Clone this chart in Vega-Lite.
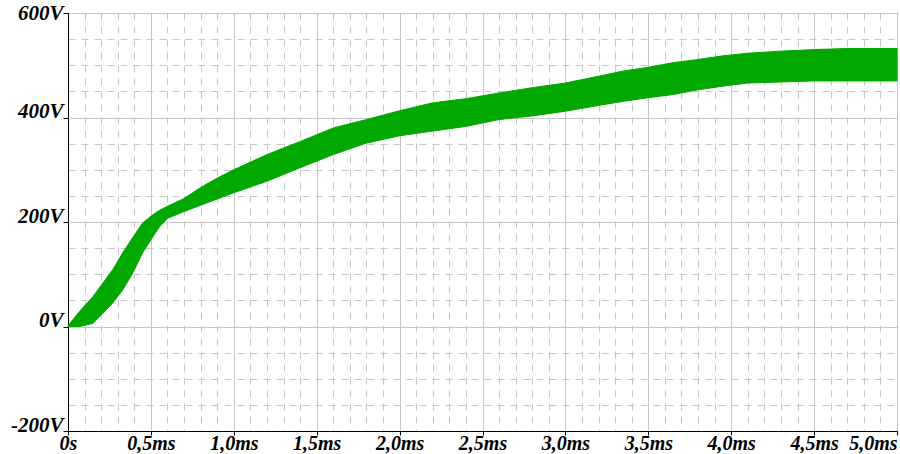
{
  "$schema": "https://vega.github.io/schema/vega-lite/v6.json",
  "autosize": {"type": "none"},
  "padding": {"left": 68, "top": 13, "right": 3, "bottom": 23},
  "width": 829,
  "height": 418,
  "background": "white",
  "view": {"stroke": "black", "strokeWidth": 1},
  "config": {
    "axis": {
      "domainColor": "black",
      "domainWidth": 1,
      "tickColor": "black",
      "gridColor": "#c6c6c6",
      "gridWidth": 1,
      "title": null,
      "labelOverlap": false,
      "labelFlush": false,
      "labelBound": false,
      "labelFont": "Liberation Serif",
      "labelFontWeight": 700,
      "labelFontStyle": "italic",
      "labelColor": "black"
    }
  },
  "data": {
    "values": [
      {"t": 0, "lo": 0, "hi": 0},
      {"t": 0.012, "lo": 0, "hi": 6},
      {"t": 0.07, "lo": 0, "hi": 29},
      {"t": 0.15, "lo": 6, "hi": 57},
      {"t": 0.21, "lo": 25, "hi": 83},
      {"t": 0.27, "lo": 45, "hi": 109},
      {"t": 0.33, "lo": 70, "hi": 141},
      {"t": 0.39, "lo": 102, "hi": 170},
      {"t": 0.45, "lo": 141, "hi": 198},
      {"t": 0.5, "lo": 166, "hi": 211},
      {"t": 0.55, "lo": 190, "hi": 222},
      {"t": 0.6, "lo": 207, "hi": 230},
      {"t": 0.7, "lo": 220, "hi": 245},
      {"t": 0.8, "lo": 232, "hi": 266},
      {"t": 0.9, "lo": 244, "hi": 284},
      {"t": 1.0, "lo": 256, "hi": 300},
      {"t": 1.2, "lo": 278, "hi": 329},
      {"t": 1.4, "lo": 304, "hi": 354},
      {"t": 1.6, "lo": 329, "hi": 380},
      {"t": 1.8, "lo": 351, "hi": 396},
      {"t": 2.0, "lo": 365, "hi": 413},
      {"t": 2.2, "lo": 374, "hi": 428},
      {"t": 2.4, "lo": 383, "hi": 436},
      {"t": 2.6, "lo": 396, "hi": 447},
      {"t": 2.8, "lo": 403, "hi": 457},
      {"t": 3.0, "lo": 412, "hi": 466},
      {"t": 3.2, "lo": 423, "hi": 479},
      {"t": 3.35, "lo": 431, "hi": 489},
      {"t": 3.5, "lo": 438, "hi": 496},
      {"t": 3.65, "lo": 444, "hi": 505},
      {"t": 3.8, "lo": 453, "hi": 511},
      {"t": 3.95, "lo": 460, "hi": 518},
      {"t": 4.1, "lo": 466, "hi": 523},
      {"t": 4.3, "lo": 468, "hi": 527},
      {"t": 4.5, "lo": 470, "hi": 530},
      {"t": 4.7, "lo": 470, "hi": 532},
      {"t": 5.0, "lo": 470, "hi": 532}
    ]
  },
  "mark": {"type": "area", "color": "#00a800", "stroke": "#00a800", "strokeWidth": 1},
  "encoding": {
    "x": {
      "field": "t",
      "type": "quantitative",
      "scale": {"domain": [0, 5], "nice": false, "zero": false},
      "axis": {
        "values": [0, 0.1, 0.2, 0.3, 0.4, 0.5, 0.6, 0.7, 0.8, 0.9, 1.0, 1.1, 1.2, 1.3, 1.4, 1.5, 1.6, 1.7, 1.8, 1.9, 2.0, 2.1, 2.2, 2.3, 2.4, 2.5, 2.6, 2.7, 2.8, 2.9, 3.0, 3.1, 3.2, 3.3, 3.4, 3.5, 3.6, 3.7, 3.8, 3.9, 4.0, 4.1, 4.2, 4.3, 4.4, 4.5, 4.6, 4.7, 4.8, 4.9, 5.0],
        "grid": true,
        "gridDash": {"condition": {"test": "abs(datum.value*2-round(datum.value*2))<0.001", "value": []}, "value": [7, 6]},
        "tickOpacity": {"condition": {"test": "abs(datum.value*2-round(datum.value*2))<0.001", "value": 1}, "value": 0},
        "tickSize": 4,
        "labelExpr": "abs(datum.value*2-round(datum.value*2))<0.001 ? (datum.value==0 ? '0s' : floor(datum.value+0.001) + ',' + round((datum.value - floor(datum.value+0.001))*10) + 'ms') : ''",
        "labelAlign": {"condition": {"test": "datum.value>=4.99", "value": "right"}, "value": "center"},
        "labelBaseline": "alphabetic",
        "labelPadding": 14,
        "labelFontSize": 20
      }
    },
    "y": {
      "field": "lo",
      "type": "quantitative",
      "scale": {"domain": [-200, 600], "nice": false, "zero": false},
      "axis": {
        "values": [-200, -150, -100, -50, 0, 50, 100, 150, 200, 250, 300, 350, 400, 450, 500, 550, 600],
        "grid": true,
        "gridDash": {"condition": {"test": "datum.value % 200 == 0", "value": []}, "value": [7, 6]},
        "tickOpacity": {"condition": {"test": "datum.value % 200 == 0", "value": 1}, "value": 0},
        "tickSize": 5,
        "labelExpr": "datum.value % 200 == 0 ? datum.value + 'V' : ''",
        "labelBaseline": {"condition": {"test": "datum.value >= 600", "value": "middle"}, "value": "alphabetic"},
        "labelPadding": 0,
        "labelFontSize": 21
      }
    },
    "y2": {"field": "hi"}
  }
}
